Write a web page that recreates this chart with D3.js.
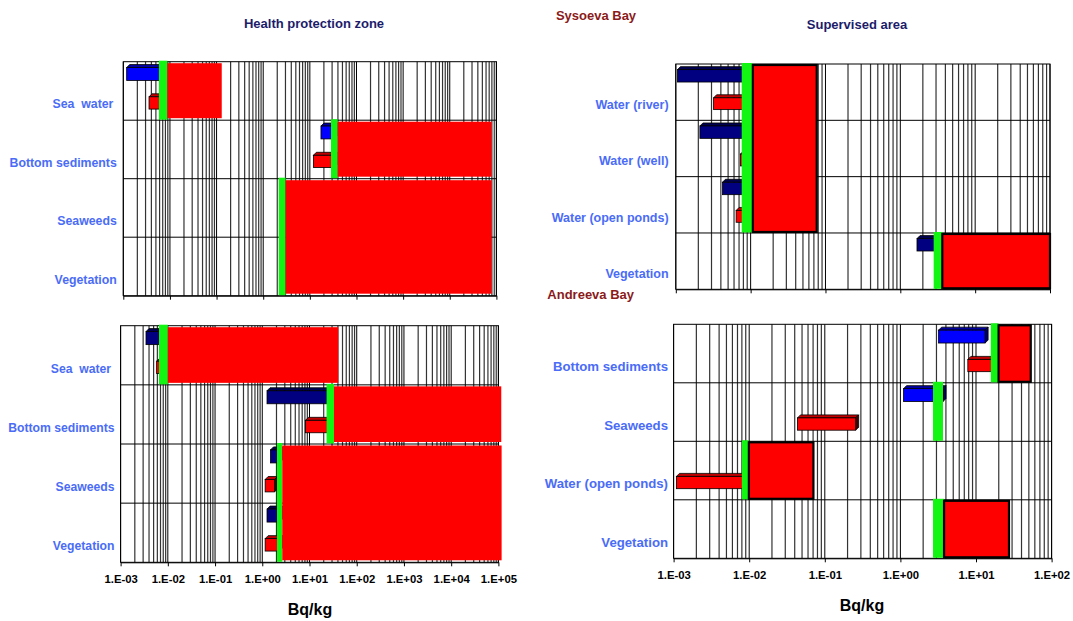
<!DOCTYPE html>
<html><head><meta charset="utf-8">
<script src="https://cdn.jsdelivr.net/npm/d3@7"></script>
<style>
body{margin:0;background:#fff}
svg{display:block}
text{font-family:"Liberation Sans",Arial,sans-serif;font-weight:bold;white-space:pre}
</style>
</head><body>
<svg id="c" width="1073" height="621"></svg>
<script>
// ---------- DATA (Bq/kg) ----------
// Sysoeva Bay – Health protection zone
const tlCategories = ["Sea  water ", "Bottom sediments", "Seaweeds", "Vegetation"];
const tlBlue  = [[1.18e-3, 7e-3], [17.3, 33], null, null];
const tlRed   = [[3.56e-3, 7e-3], [11.9, 33], null, null];
const tlGreen = [[5.8e-3, 8.8e-3], [28.4, 39.5], [2.15, 3.02], null];
const tlSpan  = [1, 1, 2, 0];
const tlLimit = [[8.8e-3, 0.129], [39.5, 7.9e4], [3.02, 7.9e4], null];

// Sysoeva Bay – Supervised area
const trCategories = ["Water (river)", "Water (well)", "Water (open ponds)", "Vegetation"];
const trBlue  = [[1.05e-3, 8e-3], [2.1e-3, 8e-3], [4.2e-3, 8e-3], [1.67, 3.0]];
const trRed   = [[3.2e-3, 8e-3], [7.3e-3, 8e-3], [6.4e-3, 8e-3], null];
const trGreen = [[7.6e-3, 1.05e-2], null, null, [2.79, 3.64]];
const trSpan  = [3, 0, 0, 1];
const trLimit = [[1.07e-2, 0.0764], null, null, [3.64, 100]];

// Andreeva Bay – Health protection zone
const blCategories = ["Sea  water ", "Bottom sediments", "Seaweeds", "Vegetation"];
const blBlue  = [[3.45e-3, 8e-3], [1.26, 28], [1.49, 2.3], [1.26, 2.3]];
const blRed   = [[5.8e-3, 8e-3], [8.2, 28], [1.15, 1.82], [1.15, 2.3]];
const blGreen = [[6.5e-3, 1.0e-2], [23, 33], [2.05, 2.65], null];
const blSpan  = [1, 1, 2, 0];
const blLimit = [[1.0e-2, 40.7], [33, 1.15e5], [2.65, 1.17e5], null];

// Andreeva Bay – Supervised area
const brCategories = ["Bottom sediments", "Seaweeds", "Water (open ponds)", "Vegetation"];
const brBlue  = [[3.2, 13.2], [1.1, 3.66], null, null];
const brRed   = [[7.8, 16], [0.0435, 0.256], [1.09e-3, 8.5e-3], null];
const brGreen = [[15.7, 19.9], [2.7, 3.66], [8.0e-3, 9.9e-3], [2.7, 3.78]];
const brSpan  = [1, 1, 1, 1];
const brLimit = [[19.9, 53], null, [9.9e-3, 0.0707], [3.78, 27.3]];

const tickLabelsWide   = ["1.E-03","1.E-02","1.E-01","1.E+00","1.E+01","1.E+02","1.E+03","1.E+04","1.E+05"];
const tickLabelsNarrow = ["1.E-03","1.E-02","1.E-01","1.E+00","1.E+01","1.E+02"];

// ---------- DRAWING ----------
const svg = d3.select("#c");
const LABEL = "#4a6cf7", RED = "#ff0000", GREEN = "#12f512";

function bar3d(g, xa, xb, yt, yb, fill, topFill, sideFill) {
  const d = 3;
  g.append("polygon").attr("points", [[xa,yt],[xa+d,yt-d],[xb+d,yt-d],[xb,yt]].join(" "))
    .attr("fill", topFill).attr("stroke", "#000").attr("stroke-width", 0.8);
  g.append("polygon").attr("points", [[xb,yt],[xb+d,yt-d],[xb+d,yb-d],[xb,yb]].join(" "))
    .attr("fill", sideFill).attr("stroke", "#000").attr("stroke-width", 0.8);
  g.append("rect").attr("x", xa).attr("y", yt).attr("width", Math.max(0, xb - xa)).attr("height", yb - yt)
    .attr("fill", fill).attr("stroke", "#000").attr("stroke-width", 0.8);
}

function drawPanel(p) {
  const x = d3.scaleLog().domain(p.domain).range([p.x0, p.x1]);
  const y = d3.scaleBand().domain(p.cats).range([p.y0, p.y1]).padding(0);
  const step = y.step();
  const g = svg.append("g");

  // vertical grid (major + minor)
  const e0 = Math.round(Math.log10(p.domain[0])), e1 = Math.round(Math.log10(p.domain[1]));
  const grid = [];
  for (let e = e0; e <= e1; e++) for (let m = 1; m <= 9; m++) {
    const v = m * Math.pow(10, e);
    if (v >= p.domain[0] * 0.999 && v <= p.domain[1] * 1.001) grid.push({v, major: m === 1});
  }
  g.selectAll(null).data(grid).join("line")
    .attr("x1", d => x(d.v)).attr("x2", d => x(d.v))
    .attr("y1", p.y0).attr("y2", p.y1)
    .attr("stroke", d => d.major ? "#000" : "#333")
    .attr("stroke-width", d => d.major ? 1 : 1.2);
  // row separators
  g.selectAll(null).data(p.cats.slice(1)).join("line")
    .attr("x1", p.x0).attr("x2", p.x1)
    .attr("y1", d => y(d)).attr("y2", d => y(d))
    .attr("stroke", "#000").attr("stroke-width", 1);
  g.append("rect").attr("x", p.x0).attr("y", p.y0).attr("width", p.x1 - p.x0).attr("height", p.y1 - p.y0)
    .attr("fill", "none").attr("stroke", "#000").attr("stroke-width", 1);

  // small bars
  p.cats.forEach((c, i) => {
    const top = y(c);
    const b = p.blue[i];
    if (b) bar3d(g, x(b[0]), x(b[1]), top + 0.1 * step, top + 0.32 * step, p.blueFill, p.blueTop, p.blueSide);
    const r = p.red[i];
    if (r) bar3d(g, x(r[0]), x(r[1]), top + 0.6 * step, top + 0.81 * step, RED, "#c00000", "#400000");
  });
  // green bands
  p.cats.forEach((c, i) => {
    const gr = p.green[i];
    if (!gr) return;
    const n = p.span[i] || 1;
    g.append("rect").attr("x", x(gr[0])).attr("y", y(c) - 1)
      .attr("width", x(gr[1]) - x(gr[0])).attr("height", n * step + 0.5)
      .attr("fill", GREEN);
  });
  // large red ranges
  p.cats.forEach((c, i) => {
    const lm = p.limit[i];
    if (!lm) return;
    const n = p.span[i] || 1;
    const r = g.append("rect").attr("x", x(lm[0])).attr("width", x(lm[1]) - x(lm[0])).attr("fill", RED);
    if (p.stroke) r.attr("y", y(c) + 1).attr("height", n * step - 2).attr("stroke", "#000").attr("stroke-width", 2.2);
    else r.attr("y", y(c) + 1.5).attr("height", n * step - 3.5);
  });

  // axis
  const decades = grid.filter(d => d.major).map(d => d.v);
  const ax = d3.axisBottom(x).tickValues(decades).tickSize(4).tickSizeOuter(0).tickPadding(9)
    .tickFormat((d, i) => p.tickLabels ? p.tickLabels[i] : "");
  const axg = g.append("g").attr("transform", `translate(0,${p.y1})`).call(ax);
  axg.select(".domain").attr("stroke", "#000");
  axg.selectAll("text").attr("font-size", 11.3).attr("fill", "#000")
    .style("font-family", '"Liberation Sans",Arial,sans-serif').style("font-weight", "bold");

  // category labels
  g.selectAll(null).data(p.cats).join("text")
    .attr("x", p.labelX).attr("y", d => y(d) + 0.74 * step)
    .attr("text-anchor", "end").attr("dominant-baseline", "middle")
    .attr("font-size", p.labelSize).attr("fill", LABEL).text(d => d);
}

drawPanel({domain:[1e-3,1e5], x0:123.3, x1:496.4, y0:61.7, y1:295.7, cats:tlCategories,
  blue:tlBlue, red:tlRed, green:tlGreen, span:tlSpan, limit:tlLimit,
  blueFill:"#0000ff", blueTop:"#0000a0", blueSide:"#000060", stroke:false, tickLabels:null, labelX:116.8, labelSize:12.3});
drawPanel({domain:[1e-3,1e5], x0:120.6, x1:498.4, y0:325.7, y1:562.3, cats:blCategories,
  blue:blBlue, red:blRed, green:blGreen, span:blSpan, limit:blLimit,
  blueFill:"#000080", blueTop:"#000050", blueSide:"#000040", stroke:false, tickLabels:tickLabelsWide, labelX:114.5, labelSize:12.2});
drawPanel({domain:[1e-3,1e2], x0:675.8, x1:1050, y0:64, y1:289.3, cats:trCategories,
  blue:trBlue, red:trRed, green:trGreen, span:trSpan, limit:trLimit,
  blueFill:"#000080", blueTop:"#000050", blueSide:"#000040", stroke:true, tickLabels:null, labelX:668.6, labelSize:12.5});
drawPanel({domain:[1e-3,1e2], x0:673.6, x1:1051.6, y0:324.3, y1:558.3, cats:brCategories,
  blue:brBlue, red:brRed, green:brGreen, span:brSpan, limit:brLimit,
  blueFill:"#0000ff", blueTop:"#0000a0", blueSide:"#000060", stroke:true, tickLabels:tickLabelsNarrow, labelX:668, labelSize:13.2});

// titles
const titles = [
  {t:"Health protection zone", x:314, y:25, c:"#1c1c6b", s:13},
  {t:"Supervised area", x:857, y:25.7, c:"#1c1c6b", s:13},
  {t:"Sysoeva Bay", x:596, y:16.7, c:"#8b1a1a", s:13},
  {t:"Andreeva Bay", x:590.7, y:295.5, c:"#8b1a1a", s:13},
  {t:"Bq/kg", x:310, y:611, c:"#000", s:16},
  {t:"Bq/kg", x:862, y:607, c:"#000", s:16}
];
svg.selectAll(null).data(titles).join("text")
  .attr("x", d => d.x).attr("y", d => d.y).attr("text-anchor", "middle").attr("dominant-baseline", "middle")
  .attr("font-size", d => d.s).attr("fill", d => d.c).text(d => d.t);
</script>
</body></html>
